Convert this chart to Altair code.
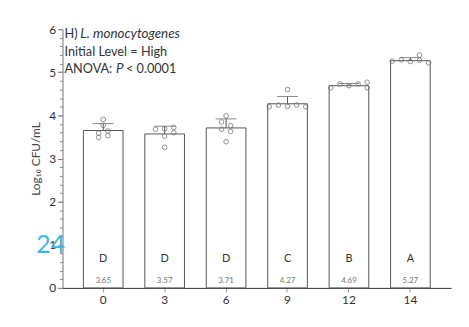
import altair as alt
import pandas as pd

days = ["0", "3", "6", "9", "12", "14"]
means = [3.65, 3.57, 3.71, 4.27, 4.69, 5.27]
sds = [0.16, 0.18, 0.21, 0.17, 0.05, 0.07]
letters = ["D", "D", "D", "C", "B", "A"]

point_day = ["0"] * 6 + ["3"] * 6 + ["6"] * 6 + ["9"] * 6 + ["12"] * 6 + ["14"] * 6
point_val = [3.91, 3.77, 3.59, 3.64, 3.49, 3.53,
             3.68, 3.69, 3.72, 3.52, 3.60, 3.26,
             3.99, 3.85, 3.76, 3.68, 3.63, 3.39,
             4.60, 4.20, 4.24, 4.21, 4.24, 4.20,
             4.64, 4.73, 4.69, 4.73, 4.77, 4.64,
             5.26, 5.29, 5.25, 5.40, 5.28, 5.22]
point_col = [0, 0, -1, 1, -1, 1,
             -2, 0, 2, 0, 2, 0,
             0, -1, 1, -1, 1, 0,
             0, -4, -2, 0, 2, 4,
             -4, -2, 0, 2, 4, 4,
             -4, -2, 0, 2, 2, 4]

FONT = "Lato"

bars = pd.DataFrame({
    "day": days, "mean": means,
    "upper": [m + s for m, s in zip(means, sds)],
    "letter": letters,
    "label": [f"{m:.2f}" for m in means],
})
pts = pd.DataFrame({"day": point_day, "val": point_val, "col": point_col})

xscale = alt.Scale(domain=days, paddingInner=0.355, paddingOuter=0.34)
yscale = alt.Scale(domain=[0, 6], nice=False)

xaxis = alt.Axis(title=None, labelAngle=0, labelFont=FONT, labelFontSize=12,
                 labelColor="#333", domainColor="#333", tickColor="#999",
                 tickSize=4, labelPadding=3)

def xe():
    return alt.X("day:N", scale=xscale, sort=days, axis=xaxis)

base = alt.Chart(bars)

bar = base.mark_bar(fill="white", stroke="#555", strokeWidth=1, width=40).encode(
    x=xe(),
    y=alt.Y("mean:Q", scale=yscale,
            axis=alt.Axis(title="Log₁₀ CFU/mL", values=[0, 1, 2, 3, 4, 5, 6], format="d",
                          labelFont=FONT, labelFontSize=12, labelColor="#333",
                          titleFont=FONT, titleFontSize=12, titleFontWeight="normal",
                          titleColor="#444", domainColor="#777", tickColor="#777",
                          tickSize=5, labelPadding=2, titlePadding=6, grid=False)),
)

minor = alt.Chart(pd.DataFrame({"v": [0]})).mark_point(opacity=0).encode(
    y=alt.Y("v:Q", scale=yscale,
            axis=alt.Axis(title=None, values=[i / 5 for i in range(31)], labels=False,
                          domain=False, tickColor="#888", tickSize=3, grid=False, orient="left")),
)

err = base.mark_rule(color="#555", strokeWidth=1).encode(
    x=xe(),
    y=alt.Y("mean:Q", scale=yscale, axis=None),
    y2="upper:Q",
)
cap = base.mark_tick(color="#555", size=21, thickness=1).encode(
    x=xe(),
    y=alt.Y("upper:Q", scale=yscale, axis=None),
)

points = alt.Chart(pts).mark_point(shape="circle", size=22, filled=False,
                                    color="#777", strokeWidth=0.8, opacity=1).encode(
    x=xe(),
    xOffset=alt.XOffset("col:Q", scale=alt.Scale(domain=[-4.35, 4.35])),
    y=alt.Y("val:Q", scale=yscale, axis=None),
)

letter_txt = base.mark_text(font=FONT, fontSize=11, color="#333", baseline="middle").encode(
    x=xe(),
    y=alt.value(232),
    text="letter:N",
)
value_txt = base.mark_text(font=FONT, fontSize=8, color="#777", baseline="middle").encode(
    x=xe(),
    y=alt.value(254),
    text="label:N",
)

ann_normal = pd.DataFrame({"t": ["H)", "Initial Level = High", "ANOVA:", "< 0.0001"],
                           "px": [2, 2, 2, 64], "py": [5, 23, 40, 40]})
ann_italic = pd.DataFrame({"t": ["L. monocytogenes", "P"],
                           "px": [18, 54], "py": [5, 40]})

t_norm = alt.Chart(ann_normal).mark_text(font=FONT, fontSize=12.8, color="#333",
                                         align="left", baseline="middle").encode(
    x=alt.X("px:Q", scale=None, axis=None), y=alt.Y("py:Q", scale=None, axis=None), text="t:N")
t_ital = alt.Chart(ann_italic).mark_text(font=FONT, fontSize=13.5, color="#333", fontStyle="italic",
                                         align="left", baseline="middle").encode(
    x=alt.X("px:Q", scale=None, axis=None), y=alt.Y("py:Q", scale=None, axis=None), text="t:N")

page = alt.Chart(pd.DataFrame({"t": ["24"]})).mark_text(
    font=FONT, fontSize=25, color="#3DB5EE", align="center", baseline="middle").encode(
    x=alt.value(-12), y=alt.value(218), text="t:N")

chart = alt.layer(bar, err, cap, points, letter_txt, value_txt, t_norm, t_ital, page, minor).resolve_axis(
    y="independent"
).properties(
    width=392, height=261,
    padding={"left": 55, "top": 20, "right": 10, "bottom": 30},
    autosize="none",
).configure_view(stroke=None)

chart.save("out.html", embed_options={"renderer": "svg", "actions": False})
